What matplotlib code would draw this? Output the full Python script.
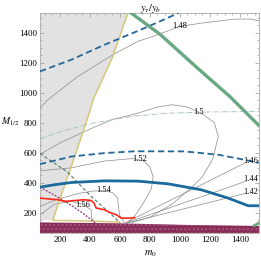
import numpy as np
import matplotlib
matplotlib.use("Agg")
import matplotlib.pyplot as plt

plt.rcParams.update({
    "font.family": "Liberation Serif", "font.size": 6.5, "mathtext.fontset": "stix",
})

# ---- data (m0, M1/2) ----
# excluded regions
grey_m0 = [67, 67, 653, 553, 425, 375, 276, 198, 153, 67]
grey_M = [135, 1531, 1531, 1242, 960, 800, 509, 287, 153, 153]
yellow_m0 = [653, 553, 425, 375, 276, 198, 153, 300, 467, 600]
yellow_M = [1531, 1242, 960, 800, 509, 287, 150, 147, 143, 138]
band_m0 = [67, 600, 1000, 1527]
band_top = [136, 130, 120, 112]

# constraint lines
green_m0 = [675, 867, 1111, 1333, 1527]
green_M = [1531, 1390, 1170, 975, 782]
green2_m0 = [1495, 1527]
green2_M = [114, 132]
bdash_up_m0 = [67, 276, 498, 720, 850, 990]
bdash_up_M = [1142, 1220, 1320, 1412, 1468, 1531]
bdash_lo_m0 = [67, 276, 498, 700, 1033, 1256, 1433, 1527]
bdash_lo_M = [524, 575, 598, 610, 609, 587, 553, 533]
blue_m0 = [67, 164, 276, 498, 720, 922, 1144, 1322, 1456, 1527]
blue_M = [371, 387, 402, 413, 411, 393, 353, 298, 247, 247]
red_m0 = [67, 120, 187, 231, 276, 364, 409, 427, 442, 498, 531, 576, 609, 653, 698]
red_M = [298, 293, 287, 276, 280, 287, 282, 265, 232, 220, 203, 187, 165, 164, 168]
gdash_m0 = [67, 150, 253, 330, 409, 520, 600]
gdash_M = [595, 540, 470, 390, 309, 210, 135]
mdash_m0 = [67, 160, 253, 350, 442]
mdash_M = [371, 320, 265, 200, 127]
dashdot_m0 = [67, 200, 420, 700, 922, 1200, 1527]
dashdot_M = [693, 740, 798, 845, 864, 872, 875]

# y_tau / y_b contours
contours = {
    "1.48": ([67, 120, 320, 553, 720, 833, 1000, 1144, 1367, 1478, 1527],
             [898, 953, 1109, 1253, 1342, 1380, 1442, 1464, 1491, 1491, 1478]),
    "1.5": ([67, 200, 387, 550, 700, 850, 950, 1050, 1150, 1230, 1256, 1220, 1150, 1080, 950, 800, 680],
            [590, 665, 752, 822, 858, 905, 920, 905, 860, 800, 709, 560, 440, 370, 260, 170, 135]),
    "1.52": ([67, 276, 498, 690, 760, 800, 822, 810, 760, 700, 650],
             [480, 500, 545, 562, 545, 505, 440, 360, 270, 180, 135]),
    "1.54": ([67, 180, 330, 420, 489, 550, 585, 590, 600, 630],
             [242, 290, 330, 345, 348, 335, 300, 240, 180, 135]),
    "1.56": ([67, 164, 280, 353, 409, 410, 430],
             [187, 258, 275, 255, 220, 170, 135]),
    "1.46": ([640, 1440], [135, 535]),
    "1.44": ([640, 1440], [132, 410]),
    "1.42": ([640, 1440], [130, 330]),
}
label_pos = {"1.48": (1000, 1442), "1.5": (1122, 875), "1.52": (735, 558), "1.54": (489, 350),
             "1.56": (353, 250), "1.46": (1475, 545), "1.44": (1475, 427), "1.42": (1475, 338)}

fig = plt.figure(figsize=(2.61, 2.61), dpi=100)
ax = fig.add_axes([0.153, 0.107, 0.839, 0.843])
ax.set_xlim(67, 1527)
ax.set_ylim(65, 1531)

ax.fill(grey_m0, grey_M, color="#e2e2e2", lw=0, zorder=0)
ax.fill_between(band_m0, 0, band_top, facecolor="#8a2c58", edgecolor="#a2567e",
                hatch="....", lw=0, zorder=5)

for k, (xs, ys) in contours.items():
    ax.plot(xs, ys, color="#8a8a8a", lw=0.5, zorder=2)
    lx, ly = label_pos[k]
    ax.text(lx, ly, k, fontsize=6, ha="center", va="center", zorder=6)

ax.plot(dashdot_m0, dashdot_M, color="#9fbcbc", lw=0.6, ls="-.", zorder=2)
ax.plot(yellow_m0, yellow_M, color="#d6c878", lw=1.1, zorder=3)
ax.plot(gdash_m0, gdash_M, color="#4c7d5e", lw=0.8, ls=(0, (3, 2)), zorder=3)
ax.plot(mdash_m0, mdash_M, color="#9a3070", lw=0.9, ls=(0, (1.5, 1.2)), zorder=3)
ax.plot(bdash_up_m0, bdash_up_M, color="#22679a", lw=1.3, ls=(0, (3.5, 2)), zorder=3)
ax.plot(bdash_lo_m0, bdash_lo_M, color="#22679a", lw=1.3, ls=(0, (3.5, 2)), zorder=3)
ax.plot(blue_m0, blue_M, color="#1a6a9c", lw=2.0, zorder=4)
ax.plot(red_m0, red_M, color="#ff2a1a", lw=1.2, zorder=4)
ax.plot(green_m0, green_M, color="#6aa882", lw=2.4, zorder=4)
ax.plot(green2_m0, green2_M, color="#6aa882", lw=2.0, zorder=6)

ax.set_xticks([200, 400, 600, 800, 1000, 1200, 1400])
ax.set_yticks([200, 400, 600, 800, 1000, 1200, 1400])
ax.set_xticks(np.arange(100, 1527, 50), minor=True)
ax.set_yticks(np.arange(100, 1531, 50), minor=True)
ax.tick_params(which="both", direction="in", top=True, right=True, color="#999999", width=0.5, pad=2)
ax.tick_params(which="major", length=3)
ax.tick_params(which="minor", length=1.5)
for s in ax.spines.values():
    s.set_color("#aaaaaa"); s.set_linewidth(0.6)

fig.text(0.04, 0.533, r"$M_{1/2}$", fontsize=7, ha="center", va="center")
fig.text(0.575, 0.027, r"$m_0$", fontsize=7.5, ha="center", va="center")
fig.text(0.579, 0.969, r"$y_\tau/y_b$", fontsize=7.5, ha="center", va="center")

fig.savefig("out.png", dpi=100)
